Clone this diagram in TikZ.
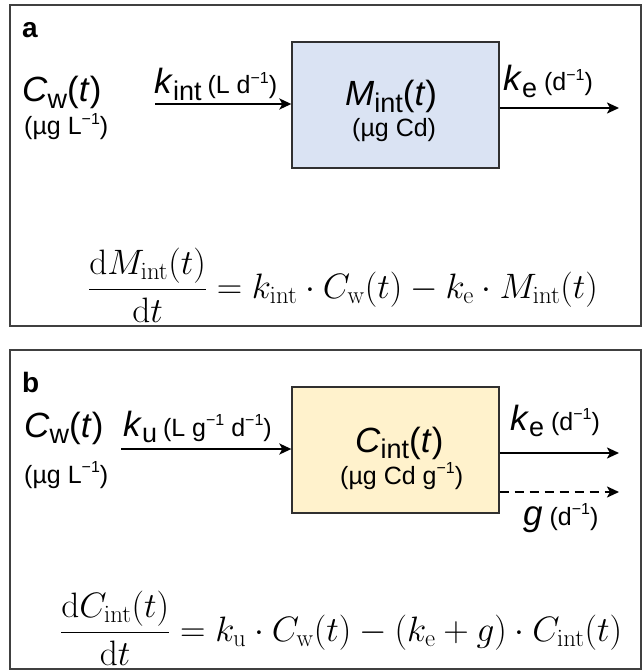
\RequirePackage{fix-cm}
\documentclass[tikz,border=0pt]{standalone}
\usepackage[no-math]{fontspec}
\setmainfont{Liberation Sans}
\usetikzlibrary{arrows.meta}
\definecolor{frameg}{HTML}{404040}
\definecolor{boxblue}{HTML}{DAE3F3}
\definecolor{boxyellow}{HTML}{FFF2CC}
\definecolor{boxline}{HTML}{303030}
\newcommand{\mainfs}{\fontsize{35}{40}\selectfont}
\newcommand{\unitfs}{\fontsize{25}{29}\selectfont}
\newcommand{\subm}[1]{\raisebox{-0.18em}{\fontsize{27}{27}\selectfont #1}}
\newcommand{\supu}[1]{\raisebox{0.42em}{\fontsize{16}{16}\selectfont #1}}
\newcommand{\eqfs}{\fontsize{35.3}{40}\selectfont}
\tikzset{
  panel/.style={draw=frameg, line width=1.5pt},
  compbox/.style={draw=boxline, line width=1.3pt, minimum width=207pt, minimum height=126pt, inner sep=0pt},
  flow/.style={line width=2.2pt, -{Stealth[length=12pt,width=11pt,inset=3pt]}},
  dflow/.style={flow, dash pattern=on 9pt off 6pt},
  lab/.style={inner sep=0pt, font=\mainfs, anchor=base west},
  unit/.style={inner sep=0pt, font=\unitfs, anchor=base west},
  plabel/.style={inner sep=0pt, font=\fontsize{28}{32}\selectfont\bfseries, anchor=base west},
  eq/.style={inner sep=0pt, font=\eqfs, anchor=west}
}
\begin{document}
\begin{tikzpicture}[x=1pt,y=-1pt]
\useasboundingbox (0,0) rectangle (643,671);
% ---------- panel a ----------
\draw[panel] (10,5) rectangle (641,326);
\node[plabel] (pa) at (22,38) {a};
\node[compbox, fill=boxblue] (Ma) at (395.5,105) {};
\node[lab] (Matxt) at (345,106) {\textit{M}\subm{int}(\textit{t})};
\node[unit] (Mau) at (352,137) {(µg Cd)};
\node[lab] (Cwa) at (22,102) {\textit{C}\subm{w}(\textit{t})};
\node[unit] (Cwau) at (24,135) {(µg L\supu{−1})};
\coordinate (ina) at (155,104);
\draw[flow] (ina) -- (ina -| Ma.west);
\node[lab] (kinta) at (154,94) {\textit{k}\subm{int}\,{\unitfs(L d\supu{−1})}};
\coordinate (outa) at (619,108);
\draw[flow] (outa -| Ma.east) -- (outa);
\node[lab] (kea) at (503,91) {\textit{k}\subm{e}{\unitfs\ (d\supu{−1})}};
\node[eq] (eqa) at (88,285) {$\displaystyle \frac{\mathrm{d}M_{\mathrm{int}}(t)}{\mathrm{d}t}=k_{\mathrm{int}}\cdot C_{\mathrm{w}}(t)-k_{\mathrm{e}}\cdot M_{\mathrm{int}}(t)$};
% ---------- panel b ----------
\draw[panel] (10,350) rectangle (641,669);
\node[plabel] (pb) at (22,392) {b};
\node[compbox, fill=boxyellow] (Cb) at (395.5,450) {};
\node[lab] (Cbtxt) at (355,452) {\textit{C}\subm{int}(\textit{t})};
\node[unit] (Cbu) at (340,484) {(µg Cd g\supu{−1})};
\node[lab] (Cwb) at (24,437) {\textit{C}\subm{w}(\textit{t})};
\node[unit] (Cwbu) at (24,483) {(µg L\supu{−1})};
\coordinate (inb) at (121,449);
\draw[flow] (inb) -- (inb -| Cb.west);
\node[lab] (kub) at (123,436) {\textit{k}\subm{u}\,{\unitfs(L g\supu{−1} d\supu{−1})}};
\coordinate (outb) at (619,453);
\draw[flow] (outb -| Cb.east) -- (outb);
\node[lab] (keb) at (510,430) {\textit{k}\subm{e}{\unitfs\ (d\supu{−1})}};
\coordinate (gout) at (619,492);
\draw[dflow] (gout -| Cb.east) -- (gout);
\node[lab] (gb) at (523,525) {\textit{g}{\unitfs\ (d\supu{−1})}};
\node[eq] (eqb) at (60,628) {$\displaystyle \frac{\mathrm{d}C_{\mathrm{int}}(t)}{\mathrm{d}t}=k_{\mathrm{u}}\cdot C_{\mathrm{w}}(t)-(k_{\mathrm{e}}+g)\cdot C_{\mathrm{int}}(t)$};
\end{tikzpicture}
\end{document}
